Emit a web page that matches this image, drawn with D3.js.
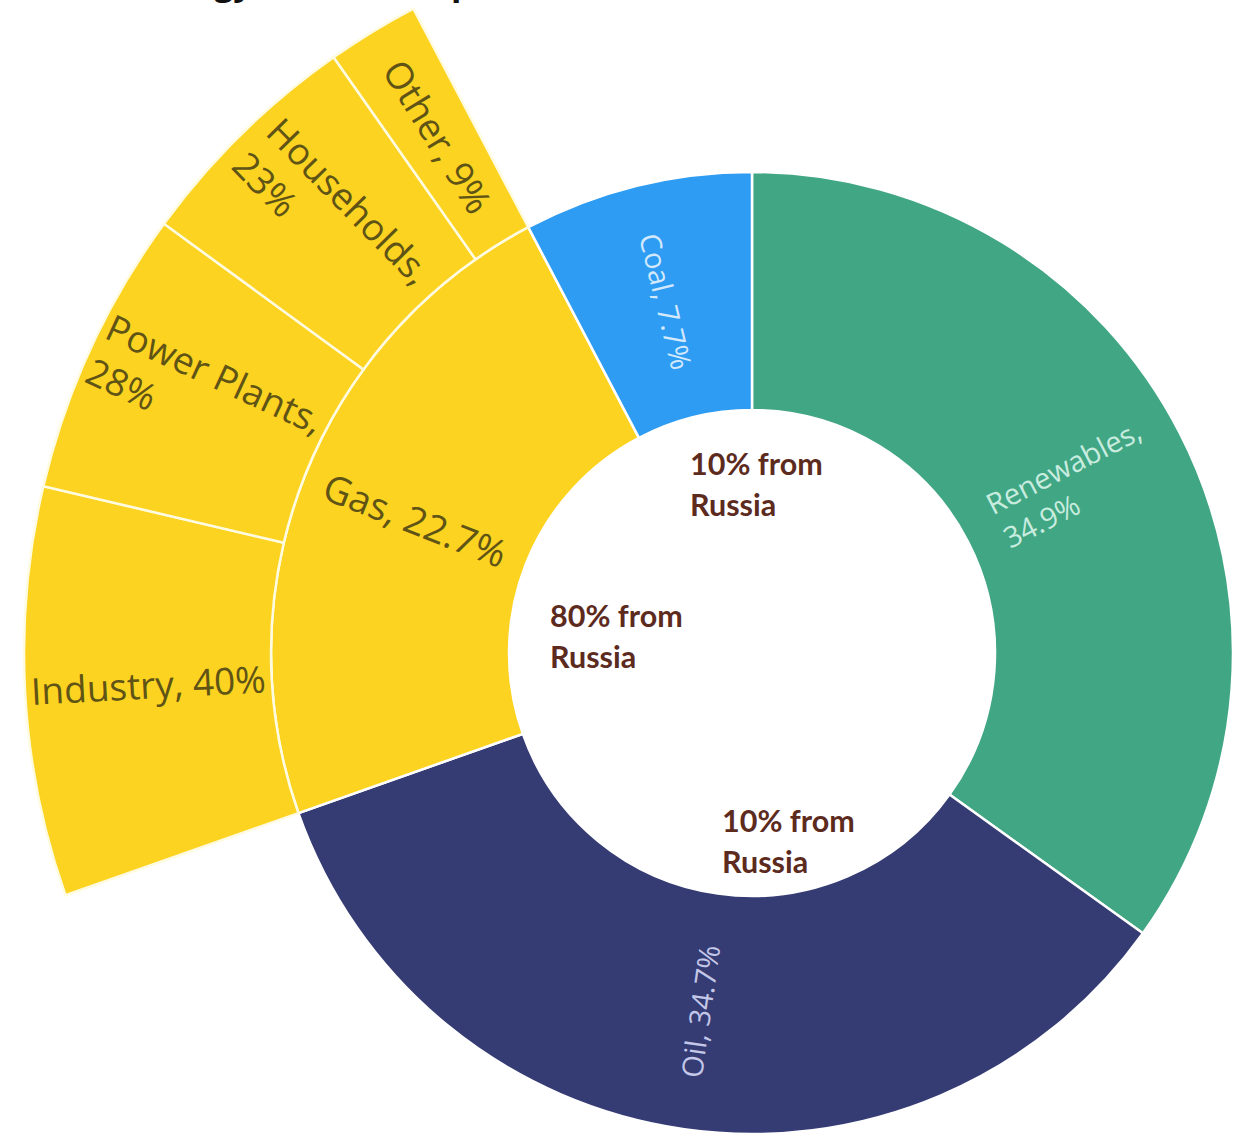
<!DOCTYPE html>
<html><head><meta charset="utf-8">
<script src="https://cdn.jsdelivr.net/npm/d3@7"></script>
<style>html,body{margin:0;padding:0;background:#fff;overflow:hidden}</style>
</head><body>
<svg id="chart" width="1235" height="1137"></svg>
<script>
// ---- data ----
const title = "German Energy Mix and Dependence on Russia";
const sources = ["Renewables", "Oil", "Gas", "Coal"];
const sourceShares = [34.9, 34.7, 22.7, 7.7];
const gasUses = ["Industry", "Power Plants", "Households", "Other"];
const gasUseShares = [40, 28, 23, 9];
const russiaSources = ["Coal", "Gas", "Oil"];
const russiaShares = [10, 80, 10];

// ---- styling / layout ----
const W = 1235, H = 1137;
const cx = 752, cy = 653;
const r0 = 243, r1 = 481, r2 = 728;
const fill = {Renewables: "#41a683", Oil: "#353b73", Gas: "#fcd320", Coal: "#2d9cf2"};
const labelColor = {Renewables: "#c8ecdf", Oil: "#c3c7e8", Gas: "#5f5316", Coal: "#d2e8fc"};
const innerFont = {Renewables: 29, Oil: 29, Coal: 29, Gas: 38};
const outerFont = 37;
const noteOffsets = {Coal: [-62, -178], Gas: [-202, -26], Oil: [-30, 179]};

const svg = d3.select("#chart");
svg.append("rect").attr("width", W).attr("height", H).attr("fill", "#fff");

svg.append("text").attr("x", -8).attr("y", -5)
  .attr("font-family", "'Open Sans', sans-serif").attr("font-weight", 700)
  .attr("font-size", 34).attr("fill", "#111").text(title);

const g = svg.append("g").attr("transform", `translate(${cx},${cy})`);

const pie = d3.pie().sort(null).value(d => d.v).startAngle(0).endAngle(2 * Math.PI);
const inner = pie(sources.map((s, i) => ({name: s, v: sourceShares[i]})));
const gasArc = inner.find(d => d.data.name === "Gas");
const outerPie = d3.pie().sort(null).value(d => d.v)
  .startAngle(gasArc.startAngle).endAngle(gasArc.endAngle);
const outer = outerPie(gasUses.map((s, i) => ({name: s, v: gasUseShares[i]})));

const arcInner = d3.arc().innerRadius(r0).outerRadius(r1);
const arcOuter = d3.arc().innerRadius(r1).outerRadius(r2);

g.selectAll("path.inner").data(inner).join("path")
  .attr("class", "inner").attr("d", arcInner)
  .attr("fill", d => fill[d.data.name])
  .attr("stroke", "#fff").attr("stroke-width", 2.5);

g.selectAll("path.outer").data(outer).join("path")
  .attr("class", "outer").attr("d", arcOuter)
  .attr("fill", fill.Gas)
  .attr("stroke", "#fffbe0").attr("stroke-width", 2.5);

function rotationFor(a) {
  const deg = a * 180 / Math.PI;
  return deg < 180 ? deg - 90 : deg - 270;
}

function placeLabel(d, rin, rout, size, color) {
  const a = (d.startAngle + d.endAngle) / 2;
  const rm = (rin + rout) / 2;
  const x = Math.sin(a) * rm, y = -Math.cos(a) * rm;
  const lbl = g.append("g").attr("transform", `translate(${x},${y}) rotate(${rotationFor(a)})`);
  const full = `${d.data.name}, ${d.data.v}%`;
  const t = lbl.append("text")
    .attr("font-family", "'Open Sans', sans-serif").attr("font-size", size)
    .attr("fill", color);
  t.text(full);
  let lines = [full];
  if (t.node().getComputedTextLength() > (rout - rin)) {
    lines = [`${d.data.name},`, `${d.data.v}%`];
  }
  t.text(null);
  const lh = size * 1.3;
  const tmp = lines.map(l => { t.text(l); return t.node().getComputedTextLength(); });
  t.text(null);
  const maxW = d3.max(tmp);
  const shift = lines.length > 1 ? -size * 0.12 : 0;
  lines.forEach((l, i) => {
    t.append("tspan").attr("x", -maxW / 2)
      .attr("y", (i - (lines.length - 1) / 2) * lh + size * 0.35 + shift)
      .text(l);
  });
}

inner.forEach(d => placeLabel(d, r0, r1, innerFont[d.data.name], labelColor[d.data.name]));
outer.forEach(d => placeLabel(d, r1, r2, outerFont, labelColor.Gas));

// Russia dependence notes
russiaSources.forEach((s, i) => {
  const [dx, dy] = noteOffsets[s];
  const t = g.append("text").attr("font-family", "Lato, sans-serif").attr("font-weight", 700)
    .attr("font-size", 30.5).attr("fill", "#5c2b1e");
  t.append("tspan").attr("x", dx).attr("y", dy).text(`${russiaShares[i]}% from`);
  t.append("tspan").attr("x", dx).attr("y", dy + 41).text("Russia");
});
</script>
</body></html>
